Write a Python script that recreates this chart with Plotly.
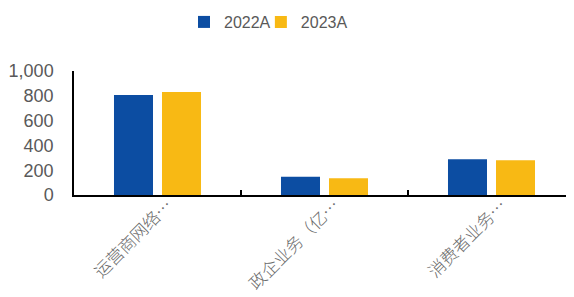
import plotly.graph_objects as go

categories = ["运营商网络…", "政企业务（亿…", "消费者业务…"]
series_names = ["2022A", "2023A"]
values_2022 = [807, 148, 288]
values_2023 = [831, 136, 281]
y_ticks = [0, 200, 400, 600, 800, 1000]

colors = ["#0C4DA2", "#F8B914"]
legend_ids = ["legend", "legend2"]

fig = go.Figure()
for name, vals, c, lg in zip(series_names, [values_2022, values_2023], colors, legend_ids):
    fig.add_trace(go.Bar(x=categories, y=vals, name=name, marker_color=c,
                         marker_line_width=0, legend=lg))

legend_style = dict(orientation="h", xanchor="left", y=1.395, yanchor="middle",
                    font=dict(size=16, color="#595959"), itemwidth=30,
                    bgcolor="rgba(0,0,0,0)")

fig.update_layout(
    width=574, height=297,
    margin=dict(l=66, r=7, t=63, b=110, pad=0, autoexpand=False),
    paper_bgcolor="white", plot_bgcolor="white",
    barmode="group", bargap=0.425, bargroupgap=0.1875,
    font=dict(family="Liberation Sans, Arial", color="#595959"),
    legend=dict(x=0.2196, **legend_style),
    legend2=dict(x=0.373, **legend_style),
    showlegend=True,
)
fig.update_xaxes(
    type="category", showline=True, linecolor="black", linewidth=1.5,
    ticks="inside", tickson="boundaries", ticklen=5, tickcolor="black", tickwidth=1.5,
    tickangle=-45, ticklabelshift=10, ticklabelstandoff=-8,
    tickfont=dict(family="Noto Sans CJK SC", size=17, color="#6a6a6a", weight=300),
    showgrid=False, automargin=False,
)
fig.update_yaxes(
    range=[0, 1000], tickvals=y_ticks, tickformat=",", showline=True,
    linecolor="black", linewidth=1.5, showgrid=False, zeroline=False,
    ticks="", ticklabelstandoff=15, tickfont=dict(size=18, color="#595959"),
    automargin=False,
)
fig.write_html("out.html")
